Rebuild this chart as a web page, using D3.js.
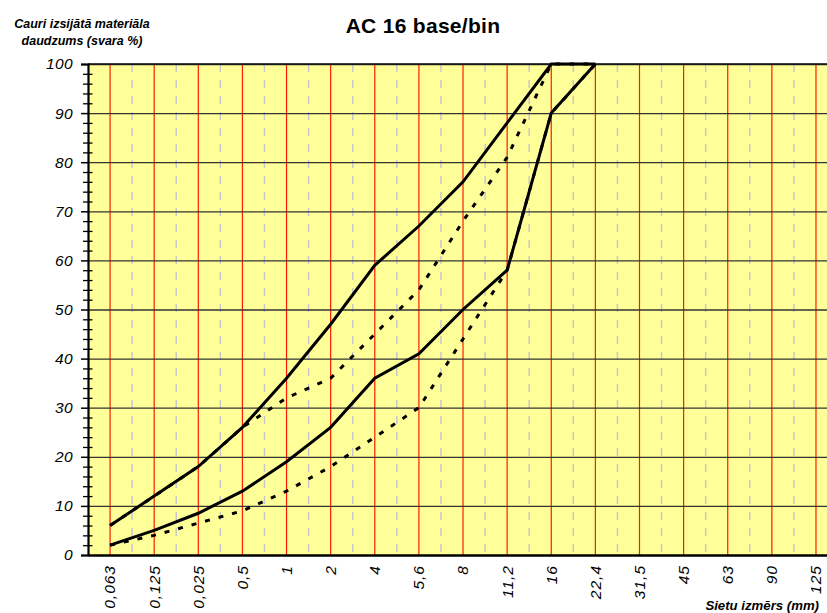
<!DOCTYPE html>
<html>
<head>
<meta charset="utf-8">
<script src="https://cdn.jsdelivr.net/npm/d3@7"></script>
<style>
  html, body { margin: 0; padding: 0; background: #fff; }
  svg { display: block; font-family: Arial, "Liberation Sans", sans-serif; }
</style>
</head>
<body>
<svg id="chart" width="827" height="613"></svg>
<script>
// ---- data ----
const categories = ["0,063","0,125","0,025","0,5","1","2","4","5,6","8","11,2","16","22,4","31,5","45","63","90","125"];
const upperLimit = [6, 12, 18, 26, 36, 47, 59, 67, 76, 88, 100, 100];
const lowerLimit = [2, 5, 8.5, 13, 19, 26, 36, 41, 50, 58, 90, 100];
const upperTarget = [6, 12, 18, 26, 32, 36, 45, 54, 68, 81, 100, 100];
const lowerTarget = [2, 4, 6.5, 9, 13, 18, 24, 30, 44, 58, 90, 100];
const yMajorTicks = [0, 10, 20, 30, 40, 50, 60, 70, 80, 90, 100];
const yMinorTicks = d3.range(0, 101, 2).filter(v => v % 10 !== 0);
const titleText = "AC 16 base/bin";
const yTitleLines = ["Cauri izsijātā materiāla", "daudzums (svara %)"];
const xTitleText = "Sietu izmērs (mm)";

// ---- layout ----
const svg = d3.select("#chart");
const pLeft = 88, pTop = 64, pBottom = 555, step = 44.12;
const pRight = pLeft + categories.length * step;

const x = d3.scaleBand().domain(categories).range([pLeft, pRight]).paddingInner(0).paddingOuter(0);
const y = d3.scaleLinear().domain([0, 100]).range([pBottom, pTop]);
const cx = d => x(d) + x.bandwidth() / 2;

// background
svg.append("rect")
  .attr("x", pLeft).attr("y", pTop)
  .attr("width", pRight - pLeft).attr("height", pBottom - pTop)
  .attr("fill", "#ffff99");

// dashed grey lines between categories
svg.append("g").selectAll("line")
  .data(categories)
  .join("line")
  .attr("x1", d => x(d) + x.bandwidth())
  .attr("x2", d => x(d) + x.bandwidth())
  .attr("y1", pTop).attr("y2", pBottom)
  .attr("stroke", "#c8c8c8")
  .attr("stroke-width", 1.5)
  .attr("stroke-dasharray", "8,8");

// red vertical lines at categories
const redAxis = svg.append("g")
  .attr("transform", `translate(0,${pBottom})`)
  .call(d3.axisBottom(x).tickSize(-(pBottom - pTop)).tickFormat(""));
redAxis.select(".domain").remove();
redAxis.selectAll(".tick line").attr("stroke", "#ff1a00").attr("stroke-width", 1.2);

// horizontal gridlines
const grid = svg.append("g")
  .attr("transform", `translate(${pLeft},0)`)
  .call(d3.axisLeft(y).tickValues(yMajorTicks.filter(v => v > 0)).tickSize(-(pRight - pLeft)).tickFormat(""));
grid.select(".domain").remove();
grid.selectAll(".tick line").attr("stroke", "#333").attr("stroke-width", 1.3);

// top border
svg.append("line")
  .attr("x1", pLeft).attr("x2", pRight)
  .attr("y1", y(100)).attr("y2", y(100))
  .attr("stroke", "#111").attr("stroke-width", 1.5);

// series lines
const line = d3.line()
  .x((d, i) => cx(categories[i]))
  .y(d => y(d));

function drawSeries(values, dashed) {
  svg.append("path")
    .datum(values)
    .attr("d", line)
    .attr("fill", "none")
    .attr("stroke", "#000")
    .attr("stroke-width", 3)
    .attr("stroke-linejoin", "miter")
    .attr("stroke-dasharray", dashed ? "5,9" : null);
}
drawSeries(lowerTarget, true);
drawSeries(upperTarget, true);
drawSeries(lowerLimit, false);
drawSeries(upperLimit, false);

// y axis: minor ticks (crossing)
const minorAx = svg.append("g")
  .attr("transform", `translate(${pLeft},0)`)
  .call(d3.axisLeft(y).tickValues(yMinorTicks).tickSize(5).tickFormat(""));
minorAx.select(".domain").remove();
minorAx.selectAll(".tick line").attr("x1", 4.5).attr("x2", -5).attr("stroke", "#000").attr("stroke-width", 1.3);

// y axis: major ticks + labels
const yAx = svg.append("g")
  .attr("transform", `translate(${pLeft},0)`)
  .call(d3.axisLeft(y).tickValues(yMajorTicks).tickSize(7).tickPadding(8));
yAx.select(".domain").attr("stroke", "#000").attr("stroke-width", 2.2);
yAx.selectAll(".tick line").attr("stroke", "#000").attr("stroke-width", 1.5);
yAx.selectAll(".tick text")
  .attr("fill", "#000")
  .style("font-family", "Arial, 'Liberation Sans', sans-serif")
  .style("font-size", "15.5px")
  .style("font-style", "italic")
  .attr("letter-spacing", 0.4);

// x axis line
const xAx = svg.append("g")
  .attr("transform", `translate(0,${pBottom})`)
  .call(d3.axisBottom(x).tickSize(0).tickFormat(""));
xAx.select(".domain").attr("stroke", "#000").attr("stroke-width", 2.5);
xAx.selectAll(".tick").remove();

// x labels rotated
svg.append("g").selectAll("text")
  .data(categories)
  .join("text")
  .attr("transform", d => `translate(${cx(d)},565) rotate(-90)`)
  .attr("text-anchor", "end")
  .attr("dy", "0.35em")
  .attr("letter-spacing", 1)
  .attr("fill", "#000")
  .style("font-size", "15.5px")
  .style("font-style", "italic")
  .text(d => d);

// title
svg.append("text")
  .attr("x", 423).attr("y", 33)
  .attr("text-anchor", "middle")
  .attr("font-size", 21)
  .attr("font-weight", "bold")
  .attr("letter-spacing", 0.3)
  .attr("fill", "#000")
  .text(titleText);

// y title
svg.append("g").selectAll("text")
  .data(yTitleLines)
  .join("text")
  .attr("x", 82)
  .attr("y", (d, i) => 28 + i * 16.5)
  .attr("text-anchor", "middle")
  .attr("font-size", 12.5)
  .attr("font-weight", "bold")
  .attr("font-style", "italic")
  .attr("fill", "#000")
  .text(d => d);

// x title
svg.append("text")
  .attr("x", 819).attr("y", 610)
  .attr("text-anchor", "end")
  .attr("font-size", 13.2)
  .attr("font-weight", "bold")
  .attr("font-style", "italic")
  .attr("fill", "#000")
  .text(xTitleText);
</script>
</body>
</html>
